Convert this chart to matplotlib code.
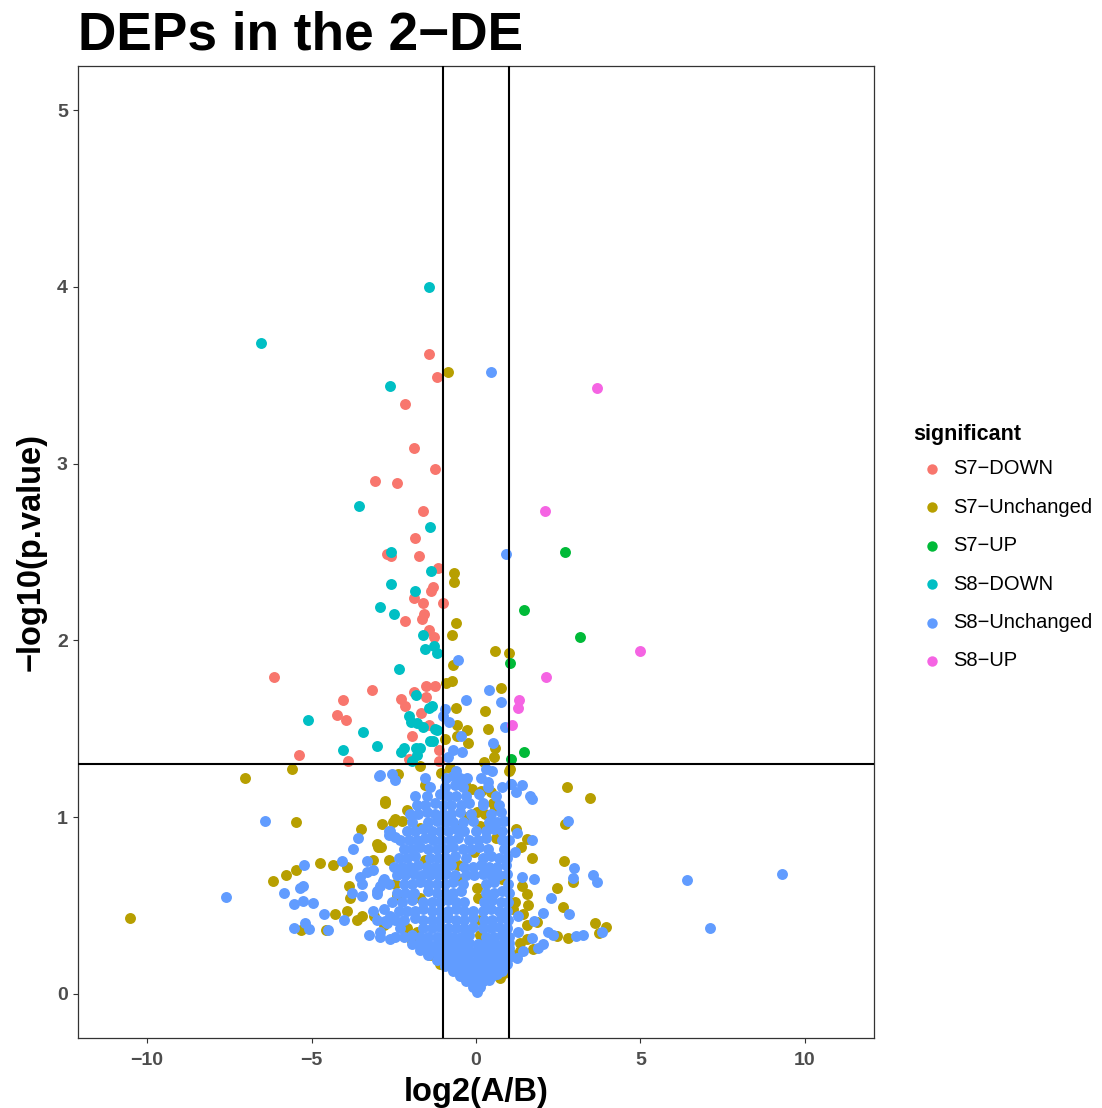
import matplotlib
matplotlib.use("Agg")
import matplotlib.pyplot as plt
from matplotlib.lines import Line2D

plt.rcParams['font.family'] = ['Liberation Sans', 'DejaVu Sans']

# categories and colours (ggplot hue palette)
groups = ["S7\u2212DOWN", "S7\u2212Unchanged", "S7\u2212UP",
          "S8\u2212DOWN", "S8\u2212Unchanged", "S8\u2212UP"]
colors = ["#F8766D", "#B79F00", "#00BA38", "#00BFC4", "#619CFF", "#F564E3"]

# (log2 ratio, -log10 p)
s7_down = [(-1.43, 3.62), (-1.18, 3.49), (-2.15, 3.34), (-1.89, 3.09), (-1.26, 2.97),
           (-3.06, 2.90), (-2.39, 2.89), (-1.62, 2.73), (-1.84, 2.58), (-2.71, 2.49),
           (-2.58, 2.48), (-1.72, 2.48), (-1.16, 2.41), (-1.38, 2.28), (-1.31, 2.30),
           (-1.87, 2.24), (-1.60, 2.21), (-1.01, 2.21), (-1.57, 2.15), (-1.63, 2.12),
           (-2.15, 2.11), (-1.42, 2.06), (-1.27, 2.02), (-6.15, 1.79), (-1.53, 1.74),
           (-1.25, 1.74), (-3.16, 1.72), (-1.89, 1.71), (-1.52, 1.68), (-4.05, 1.66),
           (-2.28, 1.67), (-2.16, 1.63), (-4.23, 1.58), (-3.95, 1.55), (-1.67, 1.59),
           (-1.42, 1.52), (-1.95, 1.46), (-1.12, 1.38), (-5.37, 1.35), (-3.90, 1.32),
           (-2.05, 1.33), (-1.14, 1.32)]

s7_unchanged = [(-0.84, 3.52), (-0.68, 2.38), (-0.68, 2.33), (-0.62, 2.10), (-0.74, 2.03),
                (0.59, 1.94), (0.99, 1.93), (-0.70, 1.86), (-0.92, 1.76), (-0.74, 1.77),
                (0.76, 1.73), (-0.60, 1.62), (0.26, 1.60), (-0.58, 1.52), (-0.59, 1.46),
                (-0.26, 1.49), (-0.24, 1.42), (0.36, 1.50), (-0.94, 1.44), (0.58, 1.39),
                (0.56, 1.34), (-5.58, 1.27), (-7.01, 1.22), (-2.77, 1.08), (-2.86, 0.96),
                (-2.51, 0.97), (-3.49, 0.93), (-2.89, 0.83), (-5.46, 0.97), (-10.52, 0.43),
                (-4.73, 0.74), (-4.34, 0.73), (-3.91, 0.72), (-5.46, 0.70), (-5.77, 0.67),
                (-6.18, 0.64), (-3.85, 0.61), (-3.83, 0.54), (-4.29, 0.45), (-3.93, 0.47),
                (-3.63, 0.42), (-3.47, 0.44), (-5.33, 0.36), (-4.57, 0.36), (-3.10, 0.44),
                (1.02, 1.27), (2.77, 1.17), (3.47, 1.11), (2.71, 0.96), (1.22, 0.93),
                (1.54, 0.875), (1.36, 0.83), (1.69, 0.77), (2.68, 0.75), (2.94, 0.63),
                (2.45, 0.60), (1.39, 0.61), (1.54, 0.565), (2.64, 0.49), (1.19, 0.52),
                (1.59, 0.50), (1.84, 0.405), (1.54, 0.39), (3.63, 0.40), (3.95, 0.38),
                (3.73, 0.345), (2.45, 0.325), (2.79, 0.316), (1.34, 0.286), (1.74, 0.254),
                # inside / around the dense core
                (-2.76, 1.09), (-2.46, 0.99), (-2.25, 0.98), (-3.02, 0.85), (-2.10, 1.04),
                (-1.70, 0.94), (-0.49, 0.95), (-0.28, 1.00), (0.02, 1.03), (0.27, 1.02),
                (0.53, 1.08), (0.58, 1.05), (0.12, 0.95), (-3.12, 0.76), (-2.97, 0.83),
                (-2.66, 0.76), (-2.46, 0.62), (-2.41, 0.56), (-1.55, 0.76), (-1.70, 0.54),
                (-0.54, 0.73), (-0.49, 0.65), (0.02, 0.60), (0.07, 0.54), (0.78, 0.65),
                (-2.81, 0.39), (-2.10, 0.37), (-1.80, 0.35), (-1.95, 0.30), (-1.40, 0.22),
                (-1.19, 0.20), (0.12, 0.42), (0.12, 0.33), (1.14, 0.48), (1.44, 0.45),
                (1.54, 0.31), (1.34, 0.24), (1.14, 0.22), (-1.09, 0.17), (0.73, 0.09),
                (0.85, 0.12), (-1.70, 1.29), (-1.55, 1.18), (-2.36, 1.245), (-1.05, 1.25),
                (-0.80, 1.28), (-0.54, 1.19), (-0.33, 1.19), (-0.13, 1.16), (0.45, 1.14),
                (0.15, 1.15), (0.25, 1.31), (0.99, 1.26), (-0.05, 0.80), (0.60, 0.88)]

s7_up = [(2.71, 2.50), (1.46, 2.17), (3.16, 2.02), (1.03, 1.87), (1.45, 1.37), (1.06, 1.33)]

s8_down = [(-6.53, 3.685), (-1.43, 4.00), (-2.60, 3.44), (-3.57, 2.76), (-1.40, 2.64),
           (-2.57, 2.50), (-1.37, 2.39), (-2.57, 2.32), (-1.85, 2.28), (-2.91, 2.19),
           (-2.50, 2.15), (-1.62, 2.03), (-1.27, 1.97), (-1.54, 1.95), (-1.18, 1.93),
           (-2.33, 1.84), (-1.82, 1.69), (-1.44, 1.62), (-1.33, 1.63), (-5.12, 1.55),
           (-2.03, 1.57), (-1.97, 1.54), (-1.79, 1.535), (-1.62, 1.51), (-3.44, 1.48),
           (-1.24, 1.50), (-1.18, 1.49), (-1.41, 1.43), (-1.30, 1.43), (-3.00, 1.40),
           (-4.03, 1.38), (-2.28, 1.37), (-2.18, 1.39), (-1.83, 1.39), (-1.70, 1.39),
           (-1.78, 1.35), (-1.95, 1.32)]

s8_unchanged = [(0.45, 3.52), (0.92, 2.49), (-0.55, 1.89), (0.40, 1.72), (-0.31, 1.66),
                (0.75, 1.65), (-0.95, 1.61), (-1.01, 1.57), (-0.82, 1.54), (0.89, 1.51),
                (-0.46, 1.46), (0.51, 1.42), (-0.69, 1.38), (-0.43, 1.37), (-0.84, 1.34),
                (-2.94, 1.23), (-6.40, 0.98), (-7.61, 0.55), (-3.60, 0.88), (-3.73, 0.82),
                (-5.24, 0.73), (-4.06, 0.75), (-3.31, 0.75), (-5.27, 0.61), (-5.35, 0.60),
                (-5.83, 0.57), (-5.54, 0.51), (-5.25, 0.525), (-4.96, 0.515), (-3.76, 0.57),
                (-3.47, 0.555), (-3.52, 0.66), (-3.46, 0.62), (-4.61, 0.45), (-4.00, 0.42),
                (-5.54, 0.37), (-5.19, 0.40), (-5.09, 0.365), (-4.51, 0.36), (-3.26, 0.335),
                (-2.92, 0.32), (-2.61, 0.31), (-3.32, 0.69), (-3.12, 0.70), (-2.82, 0.64),
                (-2.92, 0.61), (-3.02, 0.565), (-3.14, 0.47), (-2.80, 0.48), (-2.61, 0.44),
                (-2.77, 0.41), (-2.61, 0.92), (-2.65, 0.90), (1.05, 1.19), (1.41, 1.18),
                (1.21, 1.14), (1.64, 1.12), (1.69, 1.105), (2.81, 0.98), (1.24, 0.91),
                (1.69, 0.87), (1.19, 0.80), (2.97, 0.71), (2.96, 0.655), (3.55, 0.675),
                (3.69, 0.63), (6.41, 0.645), (9.29, 0.68), (7.11, 0.375), (1.39, 0.66),
                (1.76, 0.65), (2.28, 0.54), (2.05, 0.46), (2.84, 0.45), (1.27, 0.44),
                (1.77, 0.41), (3.84, 0.35), (2.20, 0.35), (2.35, 0.335), (3.04, 0.325),
                (3.24, 0.333), (1.29, 0.35), (1.71, 0.316), (2.05, 0.28), (1.89, 0.26),
                (1.44, 0.24), (1.24, 0.20), (-2.91, 1.24), (-2.56, 1.245), (-2.46, 1.21),
                (-2.66, 0.92), (-2.46, 0.89), (-3.02, 0.58), (-2.81, 0.65), (-3.02, 0.42),
                (-2.71, 0.40), (-2.91, 0.35), (0.35, 1.20), (0.22, 1.08), (1.06, 1.19)]

# dense cloud near the origin, row by row
s8_core = [(0.02, 0.01), (-0.10, 0.04), (0.12, 0.04),
           (-0.30, 0.07), (-0.05, 0.07), (0.20, 0.07), (0.40, 0.08),
           (-0.50, 0.10), (-0.25, 0.10), (0.00, 0.11), (0.25, 0.10), (0.50, 0.10), (0.65, 0.11),
           (-0.70, 0.13), (-0.45, 0.13), (-0.20, 0.14), (0.05, 0.13), (0.30, 0.13), (0.55, 0.14), (0.80, 0.13),
           (-0.95, 0.16), (-0.70, 0.16), (-0.45, 0.17), (-0.20, 0.16), (0.05, 0.16), (0.30, 0.17),
           (0.55, 0.16), (0.80, 0.16), (0.95, 0.17),
           (-1.20, 0.19), (-0.95, 0.19), (-0.70, 0.19), (-0.45, 0.20), (-0.20, 0.19), (0.05, 0.19),
           (0.30, 0.20), (0.55, 0.19), (0.80, 0.19), (0.98, 0.20),
           (-1.45, 0.22), (-1.20, 0.23), (-0.95, 0.22), (-0.70, 0.22), (-0.45, 0.22), (-0.20, 0.23),
           (0.05, 0.22), (0.30, 0.22), (0.55, 0.23), (0.80, 0.22), (1.00, 0.23),
           (-1.70, 0.25), (-1.45, 0.25), (-1.20, 0.26), (-0.95, 0.25), (-0.70, 0.25), (-0.45, 0.26),
           (-0.20, 0.25), (0.05, 0.25), (0.30, 0.26), (0.55, 0.25), (0.80, 0.25), (1.00, 0.26),
           (-1.95, 0.28), (-1.70, 0.29), (-1.45, 0.28), (-1.20, 0.28), (-0.95, 0.29), (-0.70, 0.28),
           (-0.45, 0.28), (-0.20, 0.29), (0.05, 0.28), (0.30, 0.28), (0.55, 0.29), (0.80, 0.28), (1.00, 0.29),
           (-2.45, 0.32), (-2.20, 0.32), (-1.95, 0.33), (-1.70, 0.32), (-1.45, 0.32), (-1.20, 0.32),
           (-0.95, 0.33), (-0.70, 0.32), (-0.45, 0.32), (-0.20, 0.33), (0.30, 0.32), (0.55, 0.32),
           (0.80, 0.33), (1.00, 0.32),
           (-2.30, 0.37), (-1.60, 0.37), (-1.35, 0.37), (-1.10, 0.38), (-0.85, 0.37), (-0.60, 0.37),
           (-0.35, 0.37), (-0.10, 0.38), (0.20, 0.37), (0.45, 0.37), (0.70, 0.38), (0.95, 0.37),
           (-2.45, 0.42), (-2.20, 0.42), (-1.85, 0.43), (-1.60, 0.42), (-1.35, 0.42), (-1.10, 0.42),
           (-0.85, 0.43), (-0.60, 0.42), (-0.35, 0.42), (-0.10, 0.43), (0.25, 0.42), (0.50, 0.42),
           (0.75, 0.43), (0.98, 0.42),
           (-2.35, 0.47), (-2.10, 0.47), (-1.85, 0.47), (-1.60, 0.48), (-1.35, 0.47), (-1.10, 0.47),
           (-0.85, 0.47), (-0.60, 0.48), (-0.35, 0.47), (-0.10, 0.47), (0.20, 0.47), (0.45, 0.48),
           (0.70, 0.47), (0.95, 0.47),
           (-2.55, 0.52), (-2.25, 0.52), (-1.95, 0.53), (-1.60, 0.52), (-1.35, 0.52), (-1.10, 0.52),
           (-0.85, 0.53), (-0.60, 0.52), (-0.35, 0.52), (0.25, 0.52), (0.50, 0.53), (0.75, 0.52), (0.98, 0.52),
           (-2.40, 0.57), (-2.15, 0.57), (-1.90, 0.57), (-1.45, 0.58), (-1.20, 0.57), (-0.95, 0.57),
           (-0.70, 0.57), (-0.45, 0.58), (0.30, 0.57), (0.55, 0.57), (0.80, 0.58), (1.00, 0.57),
           (-2.65, 0.62), (-2.20, 0.62), (-1.95, 0.62), (-1.70, 0.63), (-1.45, 0.62), (-1.20, 0.62),
           (-0.95, 0.62), (-0.70, 0.63), (-0.40, 0.62), (0.30, 0.62), (0.55, 0.63), (0.98, 0.62),
           (-2.40, 0.67), (-2.15, 0.67), (-1.90, 0.68), (-1.65, 0.67), (-1.40, 0.67), (-1.15, 0.67),
           (-0.90, 0.68), (-0.65, 0.67), (-0.30, 0.67), (-0.05, 0.67), (0.20, 0.68), (0.45, 0.67),
           (0.70, 0.67), (0.95, 0.68),
           (-2.50, 0.72), (-2.25, 0.72), (-2.00, 0.72), (-1.75, 0.73), (-1.50, 0.72), (-1.25, 0.72),
           (-1.00, 0.72), (-0.75, 0.73), (-0.35, 0.72), (-0.10, 0.72), (0.15, 0.73), (0.40, 0.72),
           (0.65, 0.72), (0.90, 0.73),
           (-2.35, 0.77), (-2.10, 0.77), (-1.85, 0.78), (-1.40, 0.77), (-1.15, 0.77), (-0.90, 0.77),
           (-0.65, 0.78), (-0.30, 0.77), (0.20, 0.77), (0.45, 0.78), (0.70, 0.77), (0.95, 0.77),
           (-2.20, 0.82), (-1.95, 0.82), (-1.70, 0.83), (-1.45, 0.82), (-1.20, 0.82), (-0.95, 0.82),
           (-0.70, 0.83), (-0.40, 0.82), (-0.15, 0.82), (0.10, 0.83), (0.35, 0.82), (0.85, 0.82),
           (-2.30, 0.87), (-2.05, 0.87), (-1.80, 0.87), (-1.55, 0.88), (-1.30, 0.87), (-1.05, 0.87),
           (-0.80, 0.87), (-0.55, 0.88), (-0.20, 0.87), (0.05, 0.87), (0.30, 0.88), (0.80, 0.87), (1.00, 0.87),
           (-2.10, 0.92), (-1.85, 0.92), (-1.60, 0.93), (-1.35, 0.92), (-1.10, 0.92), (-0.85, 0.92),
           (-0.60, 0.93), (-0.35, 0.92), (0.00, 0.92), (0.30, 0.92), (0.55, 0.93), (0.80, 0.92),
           (-1.95, 0.97), (-1.45, 0.97), (-1.20, 0.98), (-0.95, 0.97), (-0.70, 0.97), (-0.40, 0.97),
           (-0.10, 0.98), (0.40, 0.97), (0.65, 0.97), (0.85, 0.98),
           (-2.00, 1.02), (-1.75, 1.02), (-1.50, 1.03), (-1.25, 1.02), (-1.00, 1.02), (-0.75, 1.02),
           (-0.50, 1.03), (-0.15, 1.02), (0.45, 1.02), (0.75, 1.03),
           (-1.80, 1.07), (-1.55, 1.07), (-1.25, 1.08), (-1.00, 1.07), (-0.75, 1.07), (-0.45, 1.07),
           (-0.20, 1.08), (0.20, 1.07), (0.70, 1.07),
           (-1.85, 1.12), (-1.50, 1.12), (-1.10, 1.13), (-0.85, 1.12), (-0.60, 1.12), (-0.30, 1.12),
           (0.10, 1.13), (0.60, 1.12),
           (-1.40, 1.17), (-0.95, 1.17), (-0.65, 1.18), (-0.40, 1.17), (0.35, 1.17), (0.80, 1.17),
           (-1.55, 1.22), (-0.90, 1.22), (-0.70, 1.23), (-0.50, 1.22), (-0.28, 1.22), (0.15, 1.22),
           (-0.60, 1.26), (0.30, 1.27), (0.50, 1.26)]

s8_up = [(3.67, 3.43), (2.09, 2.73), (4.98, 1.94), (2.13, 1.79), (1.32, 1.66),
         (1.29, 1.62), (1.10, 1.52)]

fc_cut = 1.0
p_cut = 1.301

W, H = 1102, 1108
fig = plt.figure(figsize=(W / 100, H / 100), dpi=100, facecolor='white')
ax = fig.add_axes([78 / W, 1 - 1038 / H, (874 - 78) / W, (1038 - 66) / H])

series = [s7_down, s7_unchanged, s7_up, s8_down, s8_unchanged + s8_core, s8_up]
for pts, col in zip(series, colors):
    xs, ys = zip(*pts)
    ax.scatter(xs, ys, s=62, color=col, linewidths=0, zorder=2)

ax.axvline(-fc_cut, color='black', lw=1.5, zorder=3)
ax.axvline(fc_cut, color='black', lw=1.5, zorder=3)
ax.axhline(p_cut, color='black', lw=1.5, zorder=3)

ax.set_xlim(-12.1, 12.1)
ax.set_ylim(-0.25, 5.25)
ax.set_xticks([-10, -5, 0, 5, 10])
ax.set_yticks([0, 1, 2, 3, 4, 5])
for sp in ax.spines.values():
    sp.set_color('#333333')
    sp.set_linewidth(0.9)
ax.tick_params(direction='out', length=3.3, width=0.8, color='#333333',
               labelcolor='#4D4D4D', labelsize=14, pad=4)
ax.tick_params(axis='x', pad=7)
for lab in ax.get_xticklabels() + ax.get_yticklabels():
    lab.set_fontweight('bold')

fig.text(78 / W, 1 - 50 / H, "DEPs in the 2\u2212DE", fontsize=38.3, fontweight='bold',
         ha='left', va='baseline')
fig.text(476 / W, 1 - 1101 / H, "log2(A/B)", fontsize=23.5, fontweight='bold',
         ha='center', va='baseline')
fig.text(31 / W, 1 - 552 / H, "\u2212log10(p.value)", fontsize=23.5, fontweight='bold',
         ha='center', va='center', rotation=90)

# legend
fig.text(913 / W, 1 - 440 / H, "significant", fontsize=15.5, fontweight='bold',
         ha='left', va='baseline')
for i, (lab, col) in enumerate(zip(groups, colors)):
    yy = 1 - (469 + i * 38.4) / H
    fig.add_artist(Line2D([932 / W], [yy], marker='o', ls='', color=col,
                          markersize=7.5, markeredgewidth=0))
    fig.text(953 / W, yy, lab, fontsize=14.5, ha='left', va='center')

fig.savefig('out.png', dpi=100, facecolor='white')
